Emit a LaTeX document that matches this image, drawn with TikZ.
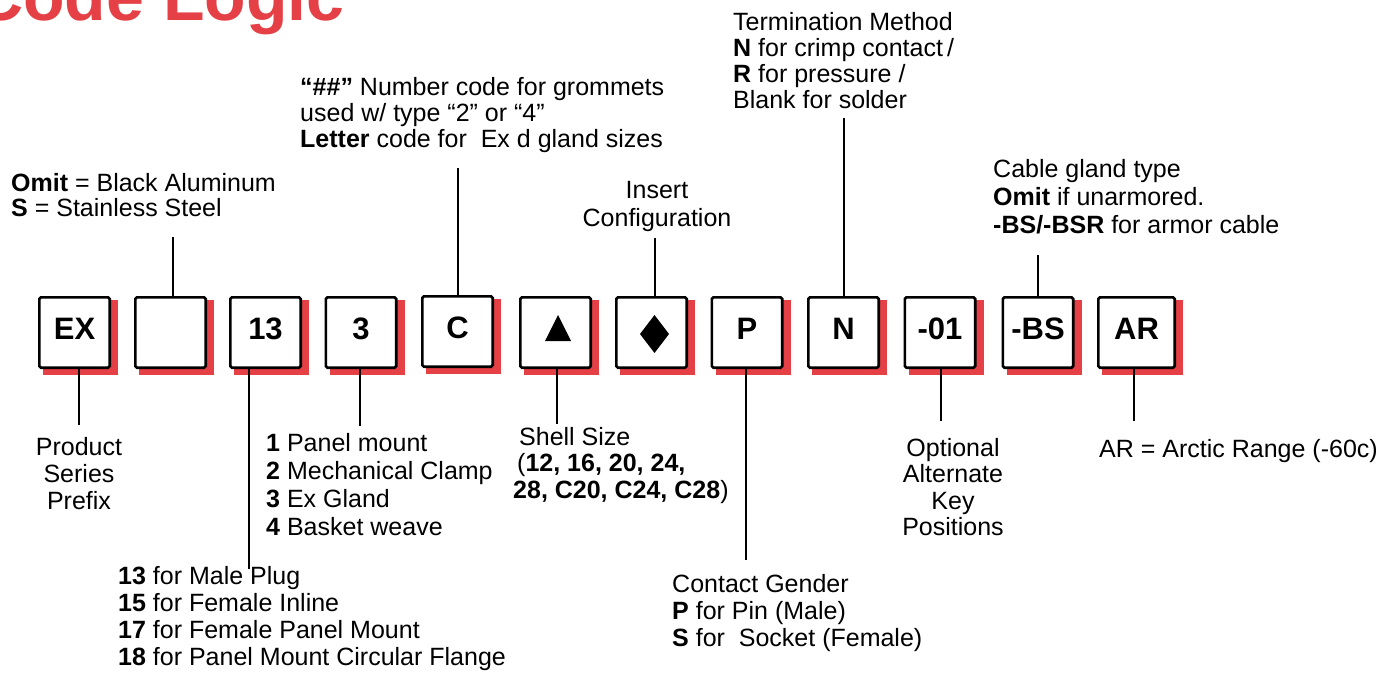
\documentclass[tikz,border=0pt]{standalone}
\usepackage{fontspec}
\setmainfont{Liberation Sans}
\usetikzlibrary{backgrounds}
\definecolor{codered}{RGB}{228,64,69}
\newcommand{\mytopstrut}{\rule{0pt}{19pt}}
\tikzset{
  codebox/.style={draw=black, line width=2.7pt, fill=white, minimum width=70.3pt, minimum height=70.3pt,
    inner sep=0pt, rounded corners=1.5pt, text height=22pt, text depth=8pt,
    font=\fontsize{31}{31}\selectfont\bfseries},
  lbl/.style={inner sep=0pt, anchor=north west, yshift=19pt, align=left},
  lblc/.style={lbl, anchor=north, align=center},
  conn/.style={line width=2.6pt, draw=black},
  boxshadow/.style={fill=codered}
}
\begin{document}
\begin{tikzpicture}[x=1pt, y=-1pt]
\useasboundingbox (0,0) rectangle (1378,677);

% title
\node[anchor=base west, inner sep=0pt, text=codered, font=\fontsize{68}{68}\selectfont\bfseries] (title) at (-26,21) {Code Logic};

% boxes
\node[codebox] (ex)    at (74.5,332.5) {EX};
\node[codebox] (blank) at (170.5,332.5) {};
\node[codebox] (n13)   at (265.5,332.5) {13};
\node[codebox] (n3)    at (361,332.5) {3};
\node[codebox] (c)     at (457.5,331.5) {C};
\node[codebox] (tri)   at (555.5,332.5) {};
\node[codebox] (dia)   at (651.5,332.5) {};
\node[codebox] (p)     at (747,332.5) {P};
\node[codebox] (n)     at (843.5,332.5) {N};
\node[codebox] (n01)   at (940,332.5) {-01};
\node[codebox] (bs)    at (1038,332.5) {-BS};
\node[codebox, minimum width=76.3pt] (ar) at (1136.5,332.5) {AR};

\fill ([shift={(2.5,-17.5)}]tri.center) -- ([shift={(15.5,8.5)}]tri.center) -- ([shift={(-10.5,8.5)}]tri.center) -- cycle;
\fill ([shift={(3,-17.5)}]dia.center) -- ([shift={(17.5,1.5)}]dia.center) -- ([shift={(3,20.5)}]dia.center) -- ([shift={(-11.5,1.5)}]dia.center) -- cycle;

\begin{pgfonlayer}{background}
  \fill[white] (0,0) rectangle (1378,677);
  \foreach \b in {ex,blank,n13,n3,c,tri,dia,p,n,n01,bs,ar}
    \fill[boxshadow] ([shift={(5,4)}]\b.north west) rectangle ([shift={(7,5.5)}]\b.south east);
\end{pgfonlayer}

% labels
\begin{scope}[font=\fontsize{25}{27}\selectfont]
\node[lbl, font=\fontsize{25}{25}\selectfont] (tOmit) at (11,191)
  {\mytopstrut\textbf{Omit} = Black Aluminum\\ \textbf{S} = Stainless Steel};
\node[lbl, font=\fontsize{25}{26}\selectfont] (tGrom) at (300,95)
  {\mytopstrut\textbf{“\#\#”} Number code for grommets\\ used w/ type “2” or “4”\\ \textbf{Letter} code for\ \ Ex d gland sizes};
\node[lbl, font=\fontsize{25}{26}\selectfont] (tTerm) at (733,30)
  {\mytopstrut Termination Method\\ \textbf{N} for crimp contact\,/\\ \textbf{R} for pressure /\\ Blank for solder};
\node[lblc, font=\fontsize{25}{28}\selectfont] (tIns) at (657,198)
  {\mytopstrut Insert\\ Configuration};
\node[lbl, font=\fontsize{25}{28}\selectfont] (tGland) at (993,177)
  {\mytopstrut Cable gland type\\ \textbf{Omit} if unarmored.\\ \textbf{-BS/-BSR} for armor cable};
\node[lblc, font=\fontsize{25}{27}\selectfont] (tProd) at (79,455)
  {\mytopstrut Product\\ Series\\ Prefix};
\node[lbl, font=\fontsize{25}{28}\selectfont] (tMount) at (266,451)
  {\mytopstrut\textbf{1} Panel mount\\ \textbf{2} Mechanical Clamp\\ \textbf{3} Ex Gland\\ \textbf{4} Basket weave};
\node[lbl, font=\fontsize{25}{26.5}\selectfont] (tShell) at (513,445)
  {\mytopstrut\hspace{6pt}Shell Size\\ \hspace{4pt}(\textbf{12, 16, 20, 24,}\\ \textbf{28, C20, C24, C28})};
\node[lbl, font=\fontsize{25}{27}\selectfont] (tGender) at (672,592)
  {\mytopstrut Contact Gender\\ \textbf{P} for Pin (Male)\\ \textbf{S} for\ \ Socket (Female)};
\node[lbl, font=\fontsize{25}{27}\selectfont] (tPlug) at (118,584)
  {\mytopstrut\textbf{13} for Male Plug\\ \textbf{15} for Female Inline\\ \textbf{17} for Female Panel Mount\\ \textbf{18} for Panel Mount Circular Flange};
\node[lblc, font=\fontsize{25}{26.5}\selectfont] (tOpt) at (953,456)
  {\mytopstrut Optional\\ Alternate\\ Key\\ Positions};
\node[lbl] (tAR) at (1099,457) {\mytopstrut AR = Arctic Range (-60c)};
\end{scope}

% connector free ends
\coordinate (eBlank) at (173,237);
\coordinate (eC) at (458,168);
\coordinate (eDia) at (655,238);
\coordinate (eN) at (844,118);
\coordinate (eBS) at (1038,255);
\coordinate (eEX) at (79,425);
\coordinate (e13) at (249,569);
\coordinate (e3) at (360,426);
\coordinate (eTri) at (557,424);
\coordinate (eP) at (746,560);
\coordinate (e01) at (941,421);
\coordinate (eAR) at (1134,421);

\draw[conn] (eBlank) -- (eBlank |- blank.north);
\draw[conn] (eC) -- (eC |- c.north);
\draw[conn] (eDia) -- (eDia |- dia.north);
\draw[conn] (eN) -- (eN |- n.north);
\draw[conn] (eBS) -- (eBS |- bs.north);
\draw[conn] (eEX |- ex.south) -- (eEX);
\draw[conn] (e13 |- n13.south) -- (e13);
\draw[conn] (e3 |- n3.south) -- (e3);
\draw[conn] (eTri |- tri.south) -- (eTri);
\draw[conn] (eP |- p.south) -- (eP);
\draw[conn] (e01 |- n01.south) -- (e01);
\draw[conn] (eAR |- ar.south) -- (eAR);
\end{tikzpicture}
\end{document}
